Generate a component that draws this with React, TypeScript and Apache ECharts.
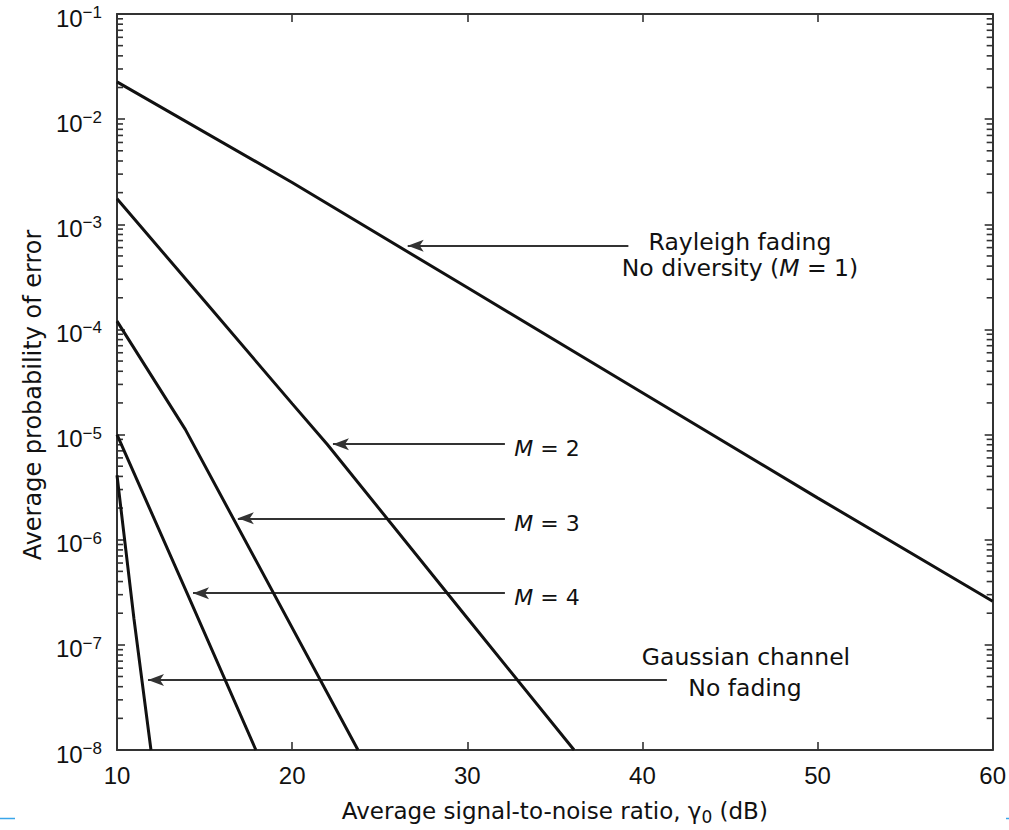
import React, { useEffect, useRef } from "react";
import * as echarts from "echarts";

// ---- data ----
const xMin = 10;
const xMax = 60;
const yMin = 1e-8;
const yMax = 1e-1;

const rayleighSnr = [10, 20, 30, 40, 50, 60];
const rayleighPe = [0.0226, 0.0025, 2.5e-4, 2.5e-5, 2.5e-6, 2.6e-7];

const m2Snr = [10, 15, 20, 22, 30, 36.1];
const m2Pe = [1.75e-3, 1.86e-4, 1.97e-5, 8.1e-6, 1.8e-7, 1e-8];

const m3Snr = [10, 13.9, 23.76];
const m3Pe = [1.2e-4, 1.12e-5, 1e-8];

const m4Snr = [10, 14, 17.93];
const m4Pe = [1e-5, 3.1e-7, 1e-8];

const gaussSnr = [10, 10.97, 11.94];
const gaussPe = [4.1e-6, 1.76e-7, 1e-8];

// annotation arrows: level, start (tail) and tip in data units
const arrowPe = [6.26e-4, 8.1e-6, 1.6e-6, 3.1e-7, 4.63e-8];
const arrowFrom = [39.2, 32.15, 32.15, 32.15, 41.4];
const arrowTo = [26.6, 22.33, 16.9, 14.34, 11.77];

// minor tick multipliers and decades
const minorMult = [2, 3, 4, 5, 6, 7, 8, 9];
const minorDecades = [-8, -7, -6, -5, -4, -3, -2];

const zip = (a: number[], b: number[]) => a.map((v, i) => [v, b[i]]);

const TXT = '"DejaVu Sans", sans-serif';
const NUM = '"Liberation Sans", Arial, sans-serif';
const INK = "#111";
const FRAME = "#333";

export default function App() {
  const ref = useRef<HTMLDivElement>(null);

  useEffect(() => {
    if (!ref.current) return;
    const chart = echarts.init(ref.current, undefined, { renderer: "svg" });

    const minorData: number[][] = [];
    minorDecades.forEach((d) =>
      minorMult.forEach((m) => minorData.push([xMin, m * Math.pow(10, d)]))
    );

    const curve = (name: string, xs: number[], ys: number[], extra: any = {}) => ({
      name,
      type: "line",
      data: zip(xs, ys),
      symbol: "none",
      clip: true,
      lineStyle: { color: INK, width: 3 },
      z: 5,
      ...extra,
    });

    const axisLineStyle = { show: true, lineStyle: { color: FRAME, width: 2 } };
    const tickStyle = { show: true, inside: true, length: 8, lineStyle: { color: FRAME, width: 1.6 } };

    const annText = (x: number, y: number, text: string, size = 23.5) => ({
      type: "text",
      x,
      y,
      style: {
        text,
        fill: INK,
        fontSize: size,
        fontFamily: TXT,
        align: "center",
        verticalAlign: "middle",
        rich: {
          i: { fontStyle: "italic", fontSize: size, fontFamily: TXT, fill: INK },
        },
      },
    });

    chart.setOption({
      animation: false,
      backgroundColor: "#fff",
      grid: { left: 117, right: 16, top: 14, bottom: 79, containLabel: false },
      xAxis: [
        {
          type: "value",
          min: xMin,
          max: xMax,
          interval: 10,
          position: "bottom",
          axisLine: axisLineStyle,
          axisTick: tickStyle,
          splitLine: { show: false },
          axisLabel: { fontSize: 24, fontFamily: NUM, color: INK, margin: 13 },
          name: "{t|Average signal-to-noise ratio, γ}{s|0}{t| (dB)}",
          nameLocation: "middle",
          nameGap: 47,
          nameTextStyle: {
            rich: {
              t: { fontSize: 23, fontFamily: TXT, color: INK, lineHeight: 28 },
              s: { fontSize: 17, fontFamily: TXT, color: INK, verticalAlign: "bottom", lineHeight: 20 },
            },
          },
        },
        {
          type: "value",
          min: xMin,
          max: xMax,
          interval: 10,
          position: "top",
          axisLine: axisLineStyle,
          axisTick: tickStyle,
          splitLine: { show: false },
          axisLabel: { show: false },
        },
      ],
      yAxis: [
        {
          type: "log",
          logBase: 10,
          min: yMin,
          max: yMax,
          interval: 1,
          splitNumber: 7,
          position: "left",
          axisLine: axisLineStyle,
          axisTick: tickStyle,
          splitLine: { show: false },
          axisLabel: {
            margin: 15,
            padding: [8, 0, 0, 0],
            formatter: (v: number) => {
              const e = Math.round(Math.log10(v));
              return `{b|10}{s|\u2212${-e}}`;
            },
            rich: {
              b: { fontSize: 24, fontFamily: NUM, color: INK, lineHeight: 28 },
              s: { fontSize: 17, fontFamily: NUM, color: INK, verticalAlign: "top", lineHeight: 18 },
            },
          },
          name: "Average probability of error",
          nameLocation: "middle",
          nameRotate: 90,
          nameGap: 70,
          nameTextStyle: { fontSize: 24, fontFamily: TXT, color: INK, padding: [0, 26, 0, 0] },
        },
        {
          type: "log",
          logBase: 10,
          min: yMin,
          max: yMax,
          interval: 1,
          splitNumber: 7,
          position: "right",
          axisLine: axisLineStyle,
          axisTick: tickStyle,
          splitLine: { show: false },
          axisLabel: { show: false },
        },
      ],
      series: [
        curve("Rayleigh M=1", rayleighSnr, rayleighPe, {
          markLine: {
            silent: true,
            symbol: ["none", "arrow"],
            symbolSize: [9, 16],
            label: { show: false },
            lineStyle: { color: FRAME, width: 2, type: "solid" },
            data: arrowPe.map((p, i) => [
              { coord: [arrowFrom[i], p] },
              { coord: [arrowTo[i], p] },
            ]),
          },
        }),
        curve("M=2", m2Snr, m2Pe),
        curve("M=3", m3Snr, m3Pe),
        curve("M=4", m4Snr, m4Pe),
        curve("Gaussian", gaussSnr, gaussPe),
        {
          name: "minor ticks",
          type: "custom",
          silent: true,
          data: minorData,
          encode: { x: 0, y: 1 },
          renderItem: (params: any, api: any) => {
            const p = api.coord([xMin, api.value(1)]);
            const cs = params.coordSys;
            const st = { stroke: FRAME, lineWidth: 1.6 };
            return {
              type: "group",
              children: [
                { type: "line", shape: { x1: cs.x, y1: p[1], x2: cs.x + 6, y2: p[1] }, style: st },
                {
                  type: "line",
                  shape: { x1: cs.x + cs.width - 6, y1: p[1], x2: cs.x + cs.width, y2: p[1] },
                  style: st,
                },
              ],
            };
          },
        },
      ],
      graphic: [
        annText(740, 242, "Rayleigh fading"),
        annText(740, 268, "No diversity ({i|M} = 1)"),
        annText(547, 448, "{i|M} = 2", 22),
        annText(547, 523, "{i|M} = 3", 22),
        annText(547, 597, "{i|M} = 4", 22),
        annText(746, 657, "Gaussian channel"),
        annText(745, 688, "No fading"),
        {
          type: "line",
          shape: { x1: 0, y1: 818.5, x2: 15, y2: 818.5 },
          style: { stroke: "#3aa6ea", lineWidth: 1.5 },
        },
        {
          type: "line",
          shape: { x1: 1006, y1: 818.5, x2: 1009, y2: 818.5 },
          style: { stroke: "#3aa6ea", lineWidth: 1.5 },
        },
      ],
    });

    return () => chart.dispose();
  }, []);

  return (
    <div
      ref={ref}
      style={{ position: "fixed", left: 0, top: 0, width: 1009, height: 830, background: "#fff" }}
    />
  );
}
